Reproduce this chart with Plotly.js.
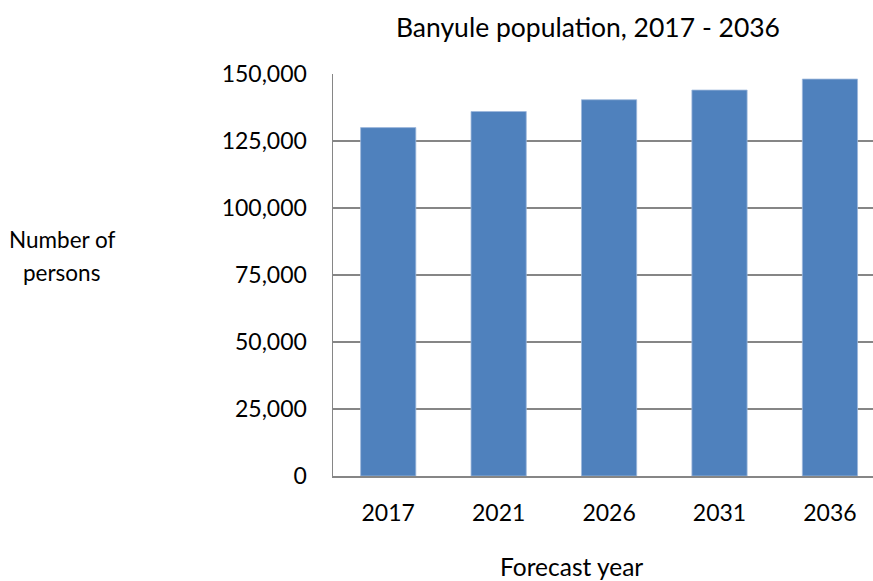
<!DOCTYPE html>
<html>
<head>
<meta charset="utf-8">
<script src="https://cdn.plot.ly/plotly-3.0.1.min.js"></script>
<style>html,body{margin:0;padding:0;background:#fff;}#chart{width:873px;height:581px;}</style>
</head>
<body>
<div id="chart"></div>
<script>
const years = ['2017', '2021', '2026', '2031', '2036'];
const population = [130000, 136000, 140400, 144000, 148100];
const yTickVals = [0, 25000, 50000, 75000, 100000, 125000, 150000];
const yTickText = ['0', '25,000', '50,000', '75,000', '100,000', '125,000', '150,000'];

const FONT = 'Lato, "Open Sans", sans-serif';

const data = [{
  type: 'bar',
  x: years,
  y: population,
  marker: {color: '#4F81BD', line: {color: '#9DB8DC', width: 0.8}},
  hoverinfo: 'x+y'
}];

const layout = {
  width: 873,
  height: 581,
  margin: {l: 333, r: 0, t: 74, b: 105},
  paper_bgcolor: '#ffffff',
  plot_bgcolor: '#ffffff',
  showlegend: false,
  bargap: 0.5,
  font: {family: FONT, size: 23, color: '#000000'},
  title: {
    text: 'Banyule population, 2017 - 2036',
    font: {family: FONT, size: 26.5, color: '#000000'},
    xref: 'container', yref: 'container',
    x: 0.6735, xanchor: 'center',
    y: 0.953, yanchor: 'middle'
  },
  xaxis: {
    type: 'category',
    range: [-0.5, 4.39],
    showgrid: false,
    showline: true,
    linecolor: '#868686',
    linewidth: 1.5,
    ticks: '',
    ticklabelstandoff: 16,
    tickfont: {family: FONT, size: 23, color: '#000000'},
    fixedrange: true
  },
  yaxis: {
    range: [0, 150000],
    tickvals: yTickVals,
    ticktext: yTickText,
    showgrid: true,
    gridcolor: '#868686',
    gridwidth: 1.3,
    showline: true,
    linecolor: '#868686',
    linewidth: 1.5,
    zeroline: false,
    ticks: '',
    ticklabelstandoff: 20,
    tickfont: {family: FONT, size: 23, color: '#000000'},
    fixedrange: true
  },
  annotations: [
    {
      text: 'Forecast year',
      xref: 'paper', yref: 'paper',
      x: 0.442, y: -0.226,
      xanchor: 'center', yanchor: 'middle',
      showarrow: false,
      font: {family: FONT, size: 24.5, color: '#000000'}
    },
    {
      text: 'Number of',
      xref: 'paper', yref: 'paper',
      x: -0.502, y: 0.589,
      xanchor: 'center', yanchor: 'middle',
      showarrow: false,
      font: {family: FONT, size: 22.5, color: '#000000'}
    },
    {
      text: 'persons',
      xref: 'paper', yref: 'paper',
      x: -0.502, y: 0.505,
      xanchor: 'center', yanchor: 'middle',
      showarrow: false,
      font: {family: FONT, size: 22.5, color: '#000000'}
    }
  ]
};

Plotly.newPlot('chart', data, layout, {displayModeBar: false, staticPlot: true});
</script>
</body>
</html>
